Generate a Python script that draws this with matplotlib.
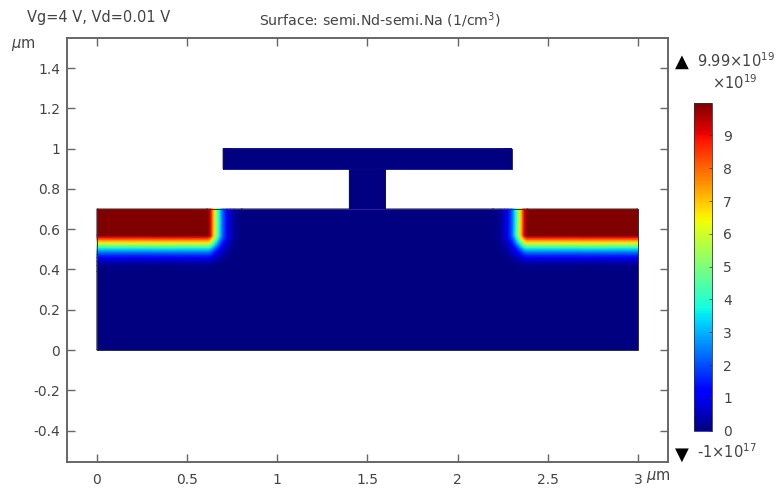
import numpy as np
import matplotlib
matplotlib.use("Agg")
import matplotlib.pyplot as plt
from matplotlib.colors import Normalize
from matplotlib.cm import ScalarMappable

W, H = 776, 490
GRAY = "#444444"
SPINE = "#666666"

# Field readings (units of 1e19 / cm^3)
depth_y = [0.0, 0.39, 0.42, 0.44, 0.46, 0.475, 0.49, 0.50, 0.51, 0.52, 0.53, 0.54, 0.55, 0.56, 0.57, 0.70]
depth_val = [0.0, 0.0, 0.1, 0.45, 1.05, 1.8, 2.6, 3.2, 4.0, 5.0, 6.0, 7.0, 8.0, 9.0, 9.99, 9.99]
lateral_x = [0.0, 0.615, 0.63, 0.64, 0.65, 0.66, 0.67, 0.68, 0.69, 0.70, 0.72, 0.74, 0.76, 0.80, 1.5]
lateral_frac = [1.0, 1.0, 0.92, 0.8, 0.68, 0.56, 0.46, 0.36, 0.28, 0.21, 0.12, 0.06, 0.025, 0.0, 0.0]
gate_x = [0.7, 2.3]
gate_y = [0.9, 1.0]
stem_x = [1.4, 1.6]
stem_y = [0.7, 0.9]
gate_val = 0.0
vmin, vmax = -0.01, 9.99
xticks = [0, 0.5, 1, 1.5, 2, 2.5, 3]
xticklabels = ["0", "0.5", "1", "1.5", "2", "2.5", "3"]
yticks = [-0.4, -0.2, 0, 0.2, 0.4, 0.6, 0.8, 1, 1.2, 1.4]
yticklabels = ["-0.4", "-0.2", "0", "0.2", "0.4", "0.6", "0.8", "1", "1.2", "1.4"]
cbar_ticks = [0, 1, 2, 3, 4, 5, 6, 7, 8, 9]

fig = plt.figure(figsize=(W / 100, H / 100), dpi=100, facecolor="white")


def box(l, t, r, b):
    return [l / W, 1 - b / H, (r - l) / W, (b - t) / H]


def ftext(px, py, s, **kw):
    kw.setdefault("color", GRAY)
    kw.setdefault("fontsize", 10)
    fig.text(px / W, 1 - py / H, s, **kw)


ax = fig.add_axes(box(67, 38, 668, 462))
ax.set_xlim(-0.166, 3.167)
ax.set_ylim(-0.556, 1.549)

norm = Normalize(vmin, vmax)
xs = np.array(lateral_x + [3 - v for v in lateral_x[::-1][1:]])
fs = np.array(lateral_frac + lateral_frac[::-1][1:])
Z = np.outer(depth_val, fs)
ax.pcolormesh(xs, depth_y, Z, shading="gouraud", cmap="jet", norm=norm, rasterized=True)
for rx, ry in ((gate_x, gate_y), (stem_x, stem_y)):
    ax.pcolormesh(rx, ry, np.full((2, 2), gate_val), shading="gouraud", cmap="jet", norm=norm)
    ax.plot([rx[0], rx[1], rx[1], rx[0], rx[0]], [ry[0], ry[0], ry[1], ry[1], ry[0]],
            color="#101040", lw=0.6)
ax.plot([0, 3, 3, 0, 0], [0, 0, 0.7, 0.7, 0], color="#303040", lw=0.7)

ax.set_xticks(xticks)
ax.set_xticklabels(xticklabels)
ax.set_yticks(yticks)
ax.set_yticklabels(yticklabels)
ax.tick_params(direction="in", top=True, right=True, length=6, width=1, color=SPINE,
               labelcolor=GRAY, labelsize=10, pad=5)
ax.tick_params(axis="x", pad=8)
for s in ax.spines.values():
    s.set_color(SPINE)
    s.set_linewidth(1.4)

cax = fig.add_axes(box(694, 103, 712, 431))
cb = fig.colorbar(ScalarMappable(norm=norm, cmap="jet"), cax=cax)
cb.set_ticks(cbar_ticks)
cb.ax.tick_params(length=2, width=0.5, color="#333333", labelcolor=GRAY, labelsize=10, pad=8, direction="in")
cb.outline.set_edgecolor("#333333")
cb.outline.set_linewidth(0.6)

ftext(27, 22, "Vg=4 V, Vd=0.01 V", fontsize=10.5)
ftext(380, 26, r"Surface: semi.Nd-semi.Na (1/cm$^3$)", ha="center", fontsize=10.2)
ftext(11, 48, r"$\mu$m", fontsize=10.5)
ftext(646, 480, r"$\mu$m", fontsize=10.5)
ftext(675, 67, "▲", color="black", fontsize=13)
ftext(697, 67, r"9.99$\times$10$^{19}$", fontsize=10.5)
ftext(712, 89, r"$\times$10$^{19}$", fontsize=10.5)
ftext(675, 460, "▼", color="black", fontsize=13)
ftext(697, 458, r"-1$\times$10$^{17}$", fontsize=10.5)

fig.savefig("out.png", dpi=100)
